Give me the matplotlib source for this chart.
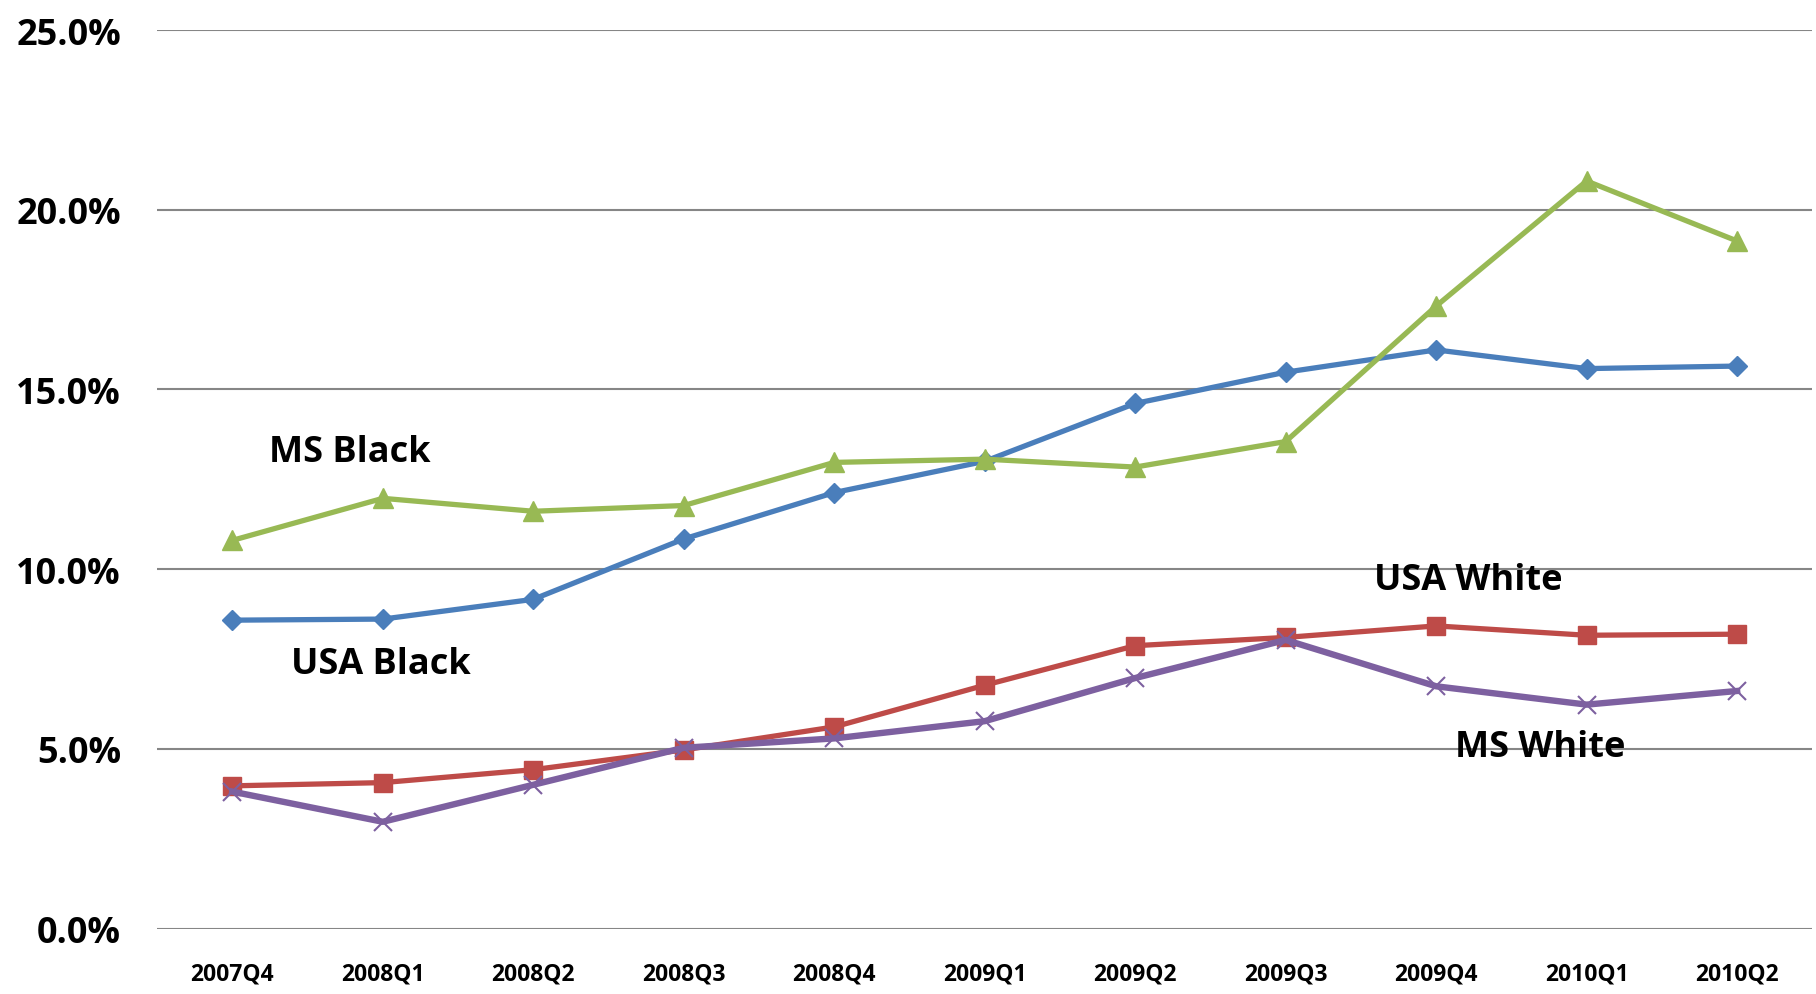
import matplotlib.pyplot as plt
from matplotlib.ticker import PercentFormatter

# 분기별 값 (%)
quarters = ["2007Q4", "2008Q1", "2008Q2", "2008Q3", "2008Q4", "2009Q1",
            "2009Q2", "2009Q3", "2009Q4", "2010Q1", "2010Q2"]
usa_black = [8.58, 8.61, 9.16, 10.84, 12.13, 13.0, 14.61, 15.48, 16.1, 15.58, 15.65]
ms_black = [10.8, 11.97, 11.61, 11.77, 12.97, 13.06, 12.84, 13.55, 17.32, 20.8, 19.13]
usa_white = [3.97, 4.06, 4.42, 4.97, 5.61, 6.77, 7.87, 8.10, 8.42, 8.16, 8.19]
ms_white = [3.81, 2.97, 4.0, 5.03, 5.29, 5.77, 6.97, 8.03, 6.74, 6.23, 6.61]

plt.rcParams['font.family'] = ['Open Sans', 'DejaVu Sans']

fig = plt.figure(figsize=(18.16, 9.95), dpi=100)
ax = fig.add_axes([0.0865, 0.0658, 0.9115, 0.903])

x = range(len(quarters))
ax.plot(x, usa_black, color='#4A7EBB', lw=3.8, marker='D', ms=10.5, zorder=3)
ax.plot(x, usa_white, color='#BE4B48', lw=3.8, marker='s', ms=13.5, zorder=3)
ax.plot(x, ms_black, color='#98B954', lw=3.8, marker='^', ms=14.5, zorder=3)
ax.plot(x, ms_white, color='#7D60A0', lw=4.6, marker='x', ms=13.5, mew=1.5, zorder=4)

ax.set_xlim(-0.5, len(quarters) - 0.5)
ax.set_ylim(0, 25)
ax.set_yticks([0, 5, 10, 15, 20, 25])
ax.yaxis.set_major_formatter(PercentFormatter(decimals=1))
ax.grid(axis='y', color='#868686', lw=1.5)
ax.set_axisbelow(True)
for s in ['top', 'right', 'left', 'bottom']:
    ax.spines[s].set_visible(False)
ax.set_xticks(list(x))
ax.set_xticklabels(quarters)
ax.tick_params(axis='x', length=0, pad=24, labelsize=16.5)
ax.tick_params(axis='y', length=0, pad=26, labelsize=26)
for lab in ax.get_xticklabels() + ax.get_yticklabels():
    lab.set_fontweight('bold')

# 시리즈 라벨
ax.text(0.78, 13.25, "MS Black", fontsize=26, fontweight='bold', ha='center', va='center')
ax.text(0.99, 7.36, "USA Black", fontsize=26, fontweight='bold', ha='center', va='center')
ax.text(8.21, 9.7, "USA White", fontsize=26, fontweight='bold', ha='center', va='center')
ax.text(8.69, 5.06, "MS White", fontsize=26, fontweight='bold', ha='center', va='center')

fig.savefig("out.png", dpi=100)
